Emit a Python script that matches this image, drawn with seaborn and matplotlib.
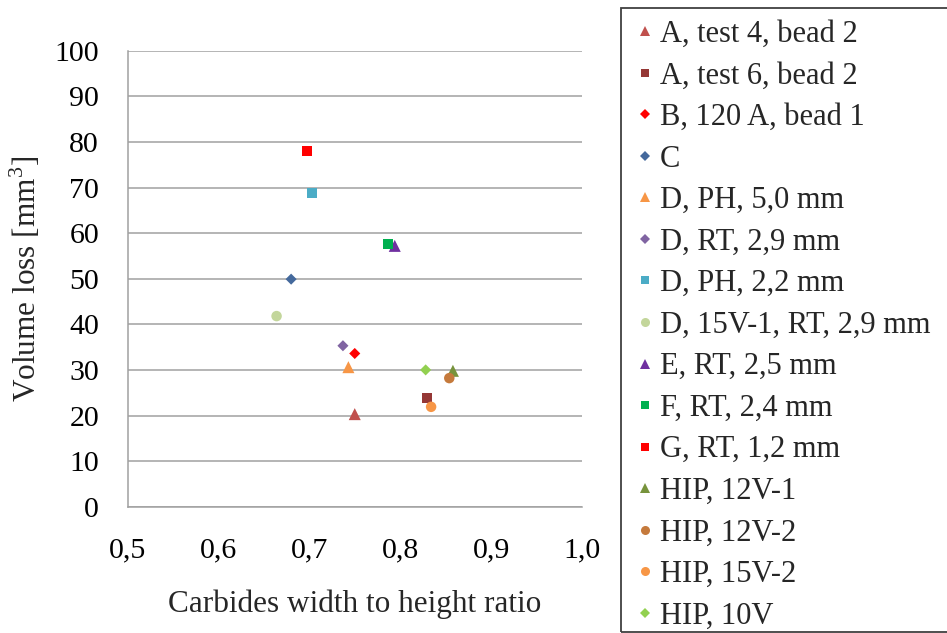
import matplotlib
matplotlib.use("Agg")
import matplotlib.pyplot as plt
import seaborn as sns
import pandas as pd
from matplotlib.lines import Line2D
from matplotlib.patches import Rectangle

# Samples, their carbide aspect ratio and measured volume loss
samples = [
    "A, test 4, bead 2", "A, test 6, bead 2", "B, 120 A, bead 1", "C",
    "D, PH, 5,0 mm", "D, RT, 2,9 mm", "D, PH, 2,2 mm", "D, 15V-1, RT, 2,9 mm",
    "E, RT, 2,5 mm", "F, RT, 2,4 mm", "G, RT, 1,2 mm",
    "HIP, 12V-1", "HIP, 12V-2", "HIP, 15V-2", "HIP, 10V",
]
width_height_ratio = [0.750, 0.830, 0.750, 0.680,
                      0.743, 0.737, 0.703, 0.664,
                      0.794, 0.787, 0.698,
                      0.858, 0.854, 0.834, 0.828]
volume_loss = [20.3, 23.9, 33.6, 49.9,
               30.6, 35.3, 68.9, 41.8,
               57.2, 57.7, 78.1,
               29.8, 28.2, 21.9, 30.0]
marker_shapes = ["^", "s", "D", "D",
                 "^", "D", "s", "o",
                 "^", "s", "s",
                 "^", "o", "o", "D"]
marker_colors = ["#C0504D", "#953735", "#FF0000", "#44699C",
                 "#F79646", "#8064A2", "#4BACC6", "#C3D69B",
                 "#7030A0", "#00B050", "#FF0000",
                 "#77933C", "#C57A3C", "#F79646", "#92D050"]

x_ticks = [0.5, 0.6, 0.7, 0.8, 0.9, 1.0]
x_tick_labels = ["0,5", "0,6", "0,7", "0,8", "0,9", "1,0"]
y_ticks = list(range(0, 101, 10))

# marker area in the plot (pt^2) and size in the legend (pt), per shape
plot_area = {"s": 52, "o": 57, "^": 75, "D": 32}
legend_size = {"s": 6.1, "o": 6.5, "^": 6.6, "D": 4.6}

df = pd.DataFrame({"sample": samples, "ratio": width_height_ratio,
                   "loss": volume_loss})

sns.set_style("white")
plt.rcParams["font.family"] = ["Liberation Serif", "DejaVu Serif"]
plt.rcParams["mathtext.fontset"] = "custom"
plt.rcParams["mathtext.rm"] = "Liberation Serif"

fig = plt.figure(figsize=(9.47, 6.33), dpi=100)
W, H = 947, 633
left, right, top, bottom = 127.5, 582, 50.7, 506.7
ax = fig.add_axes([left / W, 1 - bottom / H, (right - left) / W, (bottom - top) / H])

sns.scatterplot(data=df, x="ratio", y="loss", hue="sample", style="sample",
                size="sample",
                hue_order=samples, style_order=samples, size_order=samples,
                palette=dict(zip(samples, marker_colors)),
                markers=dict(zip(samples, marker_shapes)),
                sizes={n: plot_area[m] for n, m in zip(samples, marker_shapes)},
                linewidth=0, ax=ax, legend=False, zorder=3)

ax.set_xlim(0.5, 1.0)
ax.set_ylim(0, 100)
ax.set_xticks(x_ticks)
ax.set_xticklabels(x_tick_labels)
ax.set_yticks(y_ticks)
ax.tick_params(axis="both", labelsize=21.5, length=0, colors="black")
ax.tick_params(axis="x", pad=22)
ax.tick_params(axis="y", pad=20.5)
ax.yaxis.grid(True, color="#A0A0A0", linewidth=1.1)
ax.xaxis.grid(False)
for side in ["top", "right"]:
    ax.spines[side].set_visible(False)
for side in ["left", "bottom"]:
    ax.spines[side].set_color("#A0A0A0")
    ax.spines[side].set_linewidth(1.1)

ax.set_xlabel("Carbides width to height ratio", fontsize=22.5, labelpad=19)
ax.set_ylabel("Volume loss [mm$^3$]", fontsize=22.5, labelpad=8)

# Legend on the right, framed by a box running past the figure edge
handles = [Line2D([], [], linestyle="none", marker=m, color=c,
                  markeredgewidth=0, markersize=legend_size[m])
           for m, c in zip(marker_shapes, marker_colors)]
fig.legend(handles, samples, loc="upper left",
           bbox_to_anchor=(636 / W, 1 - 20 / H), frameon=False,
           fontsize=22, handlelength=0.6, handletextpad=0.19,
           labelspacing=0.41, borderpad=0, borderaxespad=0)
fig.add_artist(Rectangle((621 / W, 1 - 632 / H), 400 / W, 624 / H,
                         transform=fig.transFigure, fill=False,
                         edgecolor="#404040", linewidth=1.3))

fig.savefig("out.png", dpi=100)
